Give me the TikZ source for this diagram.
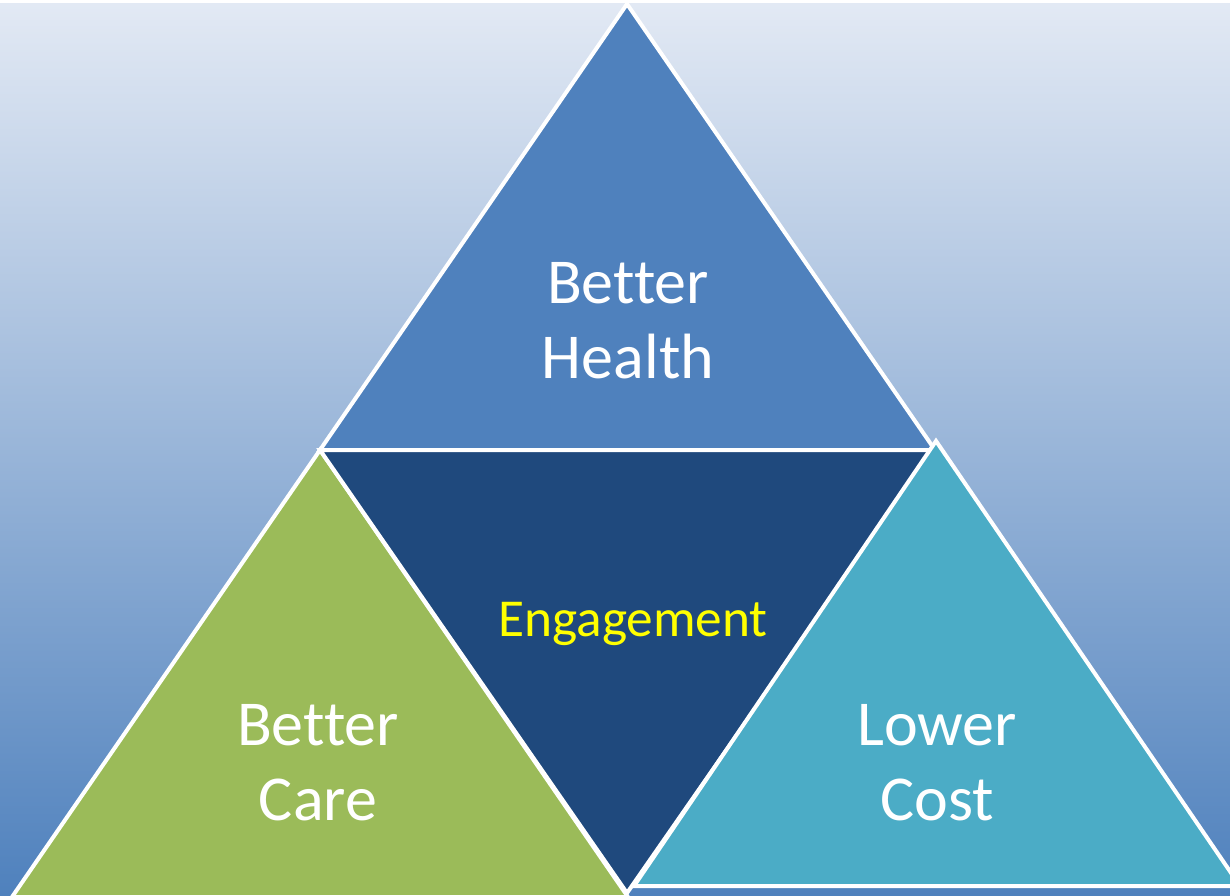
\documentclass[tikz,border=0pt]{standalone}
\usepackage{fontspec}
\setmainfont[Ligatures={NoCommon}]{Carlito}
\usetikzlibrary{calc,positioning}
\definecolor{hgoben}{HTML}{E2E9F4}
\definecolor{hgunten}{HTML}{4F81BD}
\definecolor{gesundheit}{HTML}{4F81BD}
\definecolor{mitte}{HTML}{1F497D}
\definecolor{pflege}{HTML}{9BBB59}
\definecolor{kosten}{HTML}{4BACC6}
\definecolor{gelb}{HTML}{FFFF00}

\begin{document}
\begin{tikzpicture}[x=0.75pt,y=-0.75pt,
  dreieck/.style={draw=white,line width=3pt,line join=miter},
  schrift/.style={text=white,align=center,font=\fontsize{48}{56}\selectfont}]
%Pixelkoordinaten, y zeigt nach unten
\useasboundingbox (0,0) rectangle (1230,895);
\clip (0,0) rectangle (1230,895);
\shade[top color=hgoben,bottom color=hgunten] (0,4) rectangle (1230,895);
\coordinate (oben) at (627,4);
\coordinate (links) at (320,450);
\coordinate (rechts) at (935,450);
\coordinate (unten) at (627,893);
%oberes Dreieck
\fill[gesundheit] (oben) -- (links) -- (rechts) -- cycle;
\draw[dreieck] (oben) -- (links) -- (rechts) -- cycle;
%linkes Dreieck
\fill[pflege] (links) -- (12,897) -- (628,897) -- cycle;
\draw[dreieck] (links) -- (12,897) -- (628,897) -- cycle;
%mittleres Dreieck (auf dem Kopf)
\fill[mitte] (links) -- (rechts) -- (unten) -- cycle;
\draw[dreieck] (links) -- (rechts) -- (unten) -- cycle;
%rechtes Dreieck
\fill[kosten] (936,441) -- (634,886) -- (1240,886) -- cycle;
\draw[dreieck] (936,441) -- (634,886) -- (1240,886) -- cycle;
\node[schrift] (health) at (628,321) {Better\\Health};
\node[text=gelb,font=\fontsize{40}{44}\selectfont] (engagement) at (633,624) {Engagement};
\node[schrift] (care) at (318,763) {Better\\Care};
\node[schrift] (cost) at (937,763) {Lower\\Cost};
\end{tikzpicture}
\end{document}
